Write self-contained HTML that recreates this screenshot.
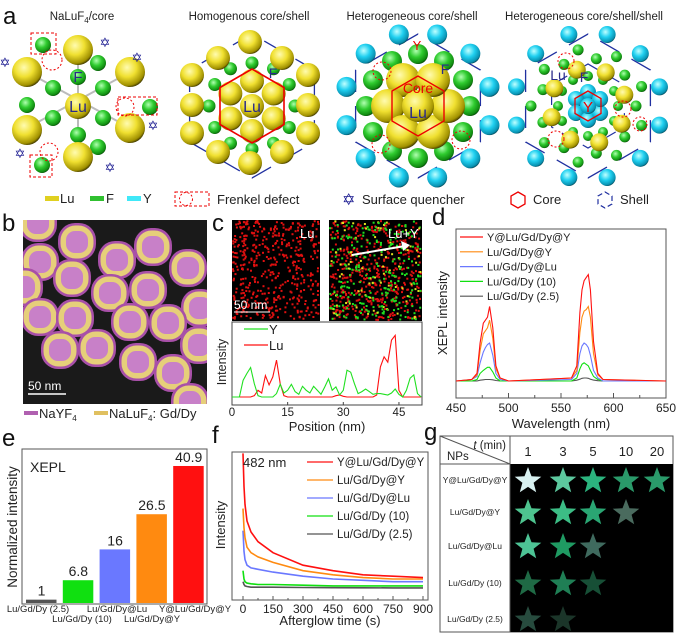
<!DOCTYPE html>
<html><head><meta charset="utf-8">
<style>
html,body{margin:0;padding:0;background:#fff;}
svg{display:block;font-family:"Liberation Sans",Arial,sans-serif;}
</style></head>
<body>
<svg id="fig" width="700" height="636" viewBox="0 0 700 636" xmlns="http://www.w3.org/2000/svg">
<defs>
 <radialGradient id="gy" cx="0.4" cy="0.35" r="0.7"><stop offset="0" stop-color="#fffbb0"/><stop offset="0.45" stop-color="#f0e030"/><stop offset="0.85" stop-color="#a09000"/><stop offset="1" stop-color="#201c00"/></radialGradient>
 <radialGradient id="gg" cx="0.4" cy="0.35" r="0.7"><stop offset="0" stop-color="#b0ffb0"/><stop offset="0.45" stop-color="#30cc30"/><stop offset="0.85" stop-color="#108a10"/><stop offset="1" stop-color="#033003"/></radialGradient>
 <radialGradient id="gc" cx="0.4" cy="0.35" r="0.7"><stop offset="0" stop-color="#c0ffff"/><stop offset="0.45" stop-color="#20d0f0"/><stop offset="0.85" stop-color="#0890b0"/><stop offset="1" stop-color="#02303a"/></radialGradient>
 <clipPath id="clipb"><rect x="23" y="220" width="184" height="184"/></clipPath>
 <clipPath id="clipd"><rect x="456" y="229" width="210" height="169"/></clipPath>
 <clipPath id="clipf"><rect x="232" y="452" width="196" height="148"/></clipPath>
</defs>
<g font-size="24" fill="#111">
 <text x="3" y="24">a</text>
 <text x="2" y="231">b</text>
 <text x="212" y="231">c</text>
 <text x="432" y="225">d</text>
 <text x="2" y="446">e</text>
 <text x="212" y="443">f</text>
 <text x="424" y="440">g</text>
</g>
<g font-size="11.5" fill="#222" text-anchor="middle">
 <text x="82" y="20">NaLuF<tspan font-size="8" dy="3">4</tspan><tspan dy="-3">/core</tspan></text>
 <text x="249" y="20">Homogenous core/shell</text>
 <text x="412" y="20">Heterogeneous core/shell</text>
 <text x="584" y="20">Heterogeneous core/shell/shell</text>
</g>
<g id="pa"></g>
<g font-size="13" fill="#222">
 <rect x="45" y="196" width="14" height="5" fill="#e0d020"/><text x="60" y="203">Lu</text>
 <rect x="90" y="196" width="14" height="5" fill="#30c030"/><text x="106" y="203">F</text>
 <rect x="127" y="196" width="14" height="5" fill="#40e8f8"/><text x="143" y="203">Y</text>
 <rect x="175" y="192" width="34" height="14" fill="none" stroke="#e00" stroke-dasharray="3,2"/>
 <circle cx="186" cy="199" r="6.5" fill="none" stroke="#e00" stroke-dasharray="2,2"/>
 <text x="217" y="204">Frenkel defect</text>
 <text x="342" y="205" fill="#1a1a90" font-size="16">✡</text>
 <text x="362" y="204">Surface quencher</text>
 <polygon points="518,192 525,196 525,204 518,208 511,204 511,196" fill="none" stroke="#e00" stroke-width="1.3"/>
 <text x="533" y="204">Core</text>
 <polygon points="605,192 612,196 612,204 605,208 598,204 598,196" fill="none" stroke="#2030a0" stroke-width="1.2" stroke-dasharray="5,3"/>
 <text x="620" y="204">Shell</text>
</g>
<g id="pb"></g>
<g font-size="13" fill="#222">
 <rect x="24" y="411" width="14" height="4" fill="#b060b0"/><text x="39" y="418">NaYF<tspan font-size="8" dy="3">4</tspan></text>
 <rect x="94" y="411" width="14" height="4" fill="#e0c060"/><text x="109" y="418">NaLuF<tspan font-size="8" dy="3">4</tspan><tspan dy="-3">: Gd/Dy</tspan></text>
</g>
<g id="pc"></g>
<g id="pd"></g>
<g id="pe"></g>
<g id="pf"></g>
<g id="pg"></g>
</svg>
<script>
var NS='http://www.w3.org/2000/svg';
function mk(tag,attrs,parent){var e=document.createElementNS(NS,tag);for(var k in attrs)e.setAttribute(k,attrs[k]);parent.appendChild(e);return e;}
function txt(s,attrs,parent){var e=mk('text',attrs,parent);e.textContent=s;return e;}

/* ---------- data: panel c line profile ---------- */
var cPos=[0,1,2,3,4,5,6,7,8,9,10,11,12,13,14,15,16,17,18,19,20,21,22,23,24,25,26,27,28,29,30,31,32,33,34,35,36,37,38,39,40,41,42,43,44,45,46,47,48,49,50,51];
var cY=[0,0,0,25,35,44,20,2,0,0,0,0,5,19,6,10,19,8,4,16,10,6,16,10,4,15,27,10,15,3,10,40,37,20,5,8,12,8,4,5,5,4,3,6,12,4,0,10,28,33,5,0];
var cLu=[0,0,0,0,0,0,2,10,6,32,18,30,55,20,2,0,0,0,0,0,0,0,0,0,0,0,0,0,2,3,1,0,0,0,0,0,0,0,0,3,45,60,52,85,92,10,0,0,0,0,0,0];
var cTicks=[0,15,30,45];
/* ---------- data: panel d spectra ---------- */
var dWl=[450,465,470,473,476,478,480,482,485,488,492,500,560,565,568,570,572,574,576,578,581,585,590,650];
var dRed=[0,1,5,25,38,40,42,49,35,10,2,0,2,10,45,60,66,68,70,60,26,5,1,0];
var dOrange=[0,1,4,20,31,33,35,40,28,8,2,0,2,7,32,42,46,47,49,42,18,4,1,0];
var dBlue=[0,1,3,12,19,22,24,25,17,5,1,0,1,5,18,23,25,24,22,17,7,2,0,0];
var dGreen=[0,0,1,5,7,8,9,9,6,2,0,0,0,2,8,11,12,11,10,7,3,1,0,0];
var dGray=[0,0,0,0.5,0.8,1,1,1,0.8,0.3,0,0,0,0.5,1.2,1.8,2,2,1.8,1.2,0.6,0.2,0,0];
var dTicks=[450,500,550,600,650];
var seriesNames=['Y@Lu/Gd/Dy@Y','Lu/Gd/Dy@Y','Lu/Gd/Dy@Lu','Lu/Gd/Dy (10)','Lu/Gd/Dy (2.5)'];
/* ---------- data: panel e bars ---------- */
var eCats=['Lu/Gd/Dy (2.5)','Lu/Gd/Dy (10)','Lu/Gd/Dy@Lu','Lu/Gd/Dy@Y','Y@Lu/Gd/Dy@Y'];
var eVals=[1,6.8,16,26.5,40.9];
var eLabels=['1','6.8','16','26.5','40.9'];
var eColors=['#555555','#10e010','#6a78ff','#ff8a10','#ff1010'];
/* ---------- data: panel f decay ---------- */
var fT=[0,5,10,20,40,75,150,300,450,600,750,900];
var fRed=[99,75,62,50,42,35,27,18,14,11,10,9];
var fOrange=[59,45,38,31,27,24,20,14,11,9,8,8];
var fBlue=[43,28,22,18,16,15,13,10,8,7,6,6];
var fGreen=[14,8,6,5,4.5,4,4,3.5,3,3,3,3];
var fGray=[6,4,3,2.5,2,2,2,1.8,1.7,1.6,1.5,1.5];
var fTicks=[0,150,300,450,600,750,900];
/* ---------- data: panel g ---------- */
var gTimes=['1','3','5','10','20'];
var gRows=['Y@Lu/Gd/Dy@Y','Lu/Gd/Dy@Y','Lu/Gd/Dy@Lu','Lu/Gd/Dy (10)','Lu/Gd/Dy (2.5)'];
var gRow1=['#d8f0f0','#5cc89e','#2bb47e','#2a9a6a','#2a9a6a'];
var gRow2=['#4ec48f','#3cbd85','#2aa673','#4a6b5e'];
var gRow3=['#4dc395','#1f9a62','#3f6a5e'];
var gRow4=['#1f6a45','#1f7f55','#174f36'];
var gRow5=['#274b3e','#1b3529'];

var colors=['#ff1010','#ff8a10','#6a78ff','#10e010','#555555'];

/* ================= panel a ================= */
var pa=document.getElementById('pa');
function sphere(cx,cy,r,g,name){var e=mk('circle',{cx:cx,cy:cy,r:r,fill:'url(#'+g+')'},pa);

}
function hexPts(cx,cy,r){var p=[];for(var i=0;i<6;i++){var a=Math.PI/2+i*Math.PI/3;p.push((cx+r*Math.cos(a)).toFixed(1)+','+(cy-r*Math.sin(a)).toFixed(1));}return p.join(' ');}
function hex(cx,cy,r,stroke,dash,name,w){var e=mk('polygon',{points:hexPts(cx,cy,r),fill:'none',stroke:stroke,'stroke-width':w||1.4},pa);if(dash)e.setAttribute('stroke-dasharray',dash);

}
function dcirc(cx,cy,r){var e=mk('circle',{cx:cx,cy:cy,r:r,fill:'none',stroke:'#e00','stroke-dasharray':'2,2'},pa);

}
function star(x,y){var e=txt('✡',{x:x,y:y,'font-size':13,fill:'#1a1a90','text-anchor':'middle'},pa);

}
function lbl(s,x,y,c,fs){var e=txt(s,{x:x,y:y,'font-size':fs||15,fill:c,'text-anchor':'middle'},pa);

}
[[27,72,130,128],[78,50,78,157],[130,72,27,128]].forEach(function(b){var e=mk('line',{x1:b[0],y1:b[1],x2:b[2],y2:b[3],stroke:'#bbb','stroke-width':2},pa);

});
[[53,88],[103,88],[53,118],[103,118],[78,77],[78,135],[27,105],[98,63],[98,147],[150,107],[43,45],[42,165]].forEach(function(p){sphere(p[0],p[1],8,'gg','f-atom');});
[[78,50],[27,72],[130,72],[27,130],[130,128],[78,157]].forEach(function(p){sphere(p[0],p[1],15,'gy','lu-atom');});
sphere(78,106,13,'gy','lu-center-atom');
lbl('Lu',78,112,'#2a2a8a',16);lbl('F',78,82,'#2a2a8a',15);
dcirc(52,60,10);dcirc(125,107,9);dcirc(49,152,9);
[[31,33,25,21],[118,97,39,18],[30,155,22,22]].forEach(function(r){var e=mk('rect',{x:r[0],y:r[1],width:r[2],height:r[3],fill:'none',stroke:'#e00','stroke-dasharray':'3,2'},pa);

});
star(105,47);star(137,62);star(5,67);star(153,130);star(20,158);star(110,172);
var H=[252,106];
hex(H[0],H[1],72,'#2030a0','22,14','shell-hex',1.3);
for(var i=0;i<12;i++){var a=i*Math.PI/6;sphere(H[0]+43*Math.cos(a),H[1]-43*Math.sin(a),6.5,'gg','f-atom');}
var outer=[[250,42],[218,58],[282,58],[192,75],[308,75],[192,105],[308,105],[192,133],[308,133],[218,152],[282,152],[250,163]];
outer.forEach(function(p){sphere(p[0],p[1],12,'gy','lu-atom');});
for(var i=0;i<6;i++){var a=Math.PI/2+i*Math.PI/3;sphere(H[0]+25*Math.cos(a),H[1]-25*Math.sin(a),12,'gy','lu-atom');}
sphere(H[0],H[1],12,'gy','lu-center-atom');
hex(H[0],H[1],37,'#e00',null,'core-hex',1.6);
lbl('Lu',H[0],H[1]+6,'#2a2a8a',16);lbl('F',H[0]+21,H[1]-28,'#2a2a8a',14);
var C=[418,106];
hex(C[0],C[1],72,'#2030a0','22,14','shell-hex',1.3);
for(var i=0;i<12;i++){var a=i*Math.PI/6+Math.PI/12;sphere(C[0]+74*Math.cos(a),C[1]-74*Math.sin(a),10,'gc','y-atom');}
for(var i=0;i<12;i++){var a=i*Math.PI/6;sphere(C[0]+52*Math.cos(a),C[1]-52*Math.sin(a),10,'gg','f-atom');}
for(var i=0;i<6;i++){var a=Math.PI/2+i*Math.PI/3+Math.PI/6;sphere(C[0]+30*Math.cos(a),C[1]-30*Math.sin(a),17,'gy','lu-atom');}
sphere(C[0],C[1],16,'gy','lu-center-atom');
hex(C[0],C[1],30,'#e00',null,'core-hex',1.4);
lbl('Core',C[0],C[1]-13,'#e00',14);lbl('Lu',C[0],C[1]+12,'#2a2a8a',16);lbl('Y',C[0]-1,C[1]-56,'#e00',13);lbl('F',C[0]+27,C[1]-32,'#2a2a8a',14);
dcirc(C[0]-36,C[1]-35,9);dcirc(C[0]-37,C[1]+38,9);dcirc(C[0]+43,C[1]+34,9);
var S=[588,106];
hex(S[0],S[1],72,'#2030a0','22,14','shell-hex',1.3);
hex(S[0],S[1],42,'#2030a0','14,10','inner-shell-hex',1.2);
for(var i=0;i<12;i++){var a=i*Math.PI/6+Math.PI/12;sphere(S[0]+74*Math.cos(a),S[1]-74*Math.sin(a),8.5,'gc','y-atom');}
for(var i=0;i<18;i++){var a=i*Math.PI/9;var rr=(i%2?57:48);sphere(S[0]+rr*Math.cos(a),S[1]-rr*Math.sin(a),5.5,'gg','f-atom');}
for(var i=0;i<12;i++){var a=i*Math.PI/6;sphere(S[0]+30*Math.cos(a),S[1]-30*Math.sin(a),5,'gg','f-atom');}
for(var i=0;i<8;i++){var a=i*Math.PI/4+0.3;sphere(S[0]+38*Math.cos(a),S[1]-38*Math.sin(a),9,'gy','lu-atom');}
for(var i=0;i<6;i++){var a=Math.PI/2+i*Math.PI/3;sphere(S[0]+14*Math.cos(a),S[1]-14*Math.sin(a),8,'gc','y-core-atom');}
sphere(S[0],S[1],8,'gc','y-core-atom');
hex(S[0],S[1],15,'#e00',null,'core-hex',1.3);
lbl('Y',S[0],S[1]+6,'#e00',15);lbl('Lu',S[0]-30,S[1]-26,'#2a2a8a',14);lbl('F',S[0]-4,S[1]-24,'#2a2a8a',14);
dcirc(S[0]-22,S[1]-45,8);dcirc(S[0]+35,S[1]+3,8);dcirc(S[0]-32,S[1]+33,8);dcirc(S[0]+52,S[1]+18,7);

/* ================= panel b ================= */
var pb=document.getElementById('pb');
var bimg=mk('g',{'clip-path':'url(#clipb)'},pb);
var bg=mk('rect',{x:23,y:220,width:184,height:184,fill:'#1a1a1a'},bimg);


var parts=[[38,223],[77,242],[117,260],[153,247],[188,268],[40,262],[72,278],[110,293],[148,290],[200,308],[24,287],[40,317],[75,318],[130,322],[168,323],[60,350],[97,348],[138,362],[173,373],[199,345],[190,402]];
parts.forEach(function(p){
 var g=mk('g',{},bimg);
 
 
 mk('rect',{x:p[0]-19,y:p[1]-19,width:38,height:38,rx:17,fill:'#a850a8'},g);
 mk('rect',{x:p[0]-16.5,y:p[1]-16.5,width:33,height:33,rx:15,fill:'#e6cf7a'},g);
 mk('rect',{x:p[0]-11,y:p[1]-11,width:22,height:22,rx:9,fill:'#c880c8'},g);
});
var sb=mk('line',{x1:28,y1:394,x2:66,y2:394,stroke:'#fff','stroke-width':1.5},pb);


var sbt=txt('50 nm',{x:28,y:390,'font-size':12,fill:'#fff'},pb);



/* ================= panel c ================= */
var pc=document.getElementById('pc');
var m1=mk('rect',{x:232,y:220,width:88,height:101,fill:'#000'},pc);


var m2=mk('rect',{x:329,y:220,width:93,height:101,fill:'#000'},pc);


var seed=7;function rnd(){seed=(seed*9301+49297)%233280;return seed/233280;}
var dots=mk('g',{},pc);


for(var i=0;i<650;i++){var x=232+rnd()*86,y=220+rnd()*99;if(rnd()<0.25)continue;mk('rect',{x:x.toFixed(1),y:y.toFixed(1),width:2,height:2,fill:'#e01010'},dots);}
for(var i=0;i<500;i++){var x=329+rnd()*91,y=220+rnd()*99;mk('rect',{x:x.toFixed(1),y:y.toFixed(1),width:2,height:2,fill:'#e01010'},dots);}
for(var i=0;i<320;i++){var x=329+rnd()*91,y=220+rnd()*99;mk('rect',{x:x.toFixed(1),y:y.toFixed(1),width:2,height:2,fill:rnd()<0.2?'#e0e020':'#20e020'},dots);}
var t1=txt('Lu',{x:300,y:238,'font-size':13,fill:'#fff'},pc);
var t2=txt('Lu+Y',{x:388,y:238,'font-size':13,fill:'#fff'},pc);
var ar=mk('line',{x1:352,y1:255,x2:405,y2:246,stroke:'#fff','stroke-width':2},pc);
var ah=mk('polygon',{points:'410,245 401,241 403,251',fill:'#fff'},pc);
var cs=mk('line',{x1:234,y1:312,x2:270,y2:312,stroke:'#fff','stroke-width':1},pc);
var cst=txt('50 nm',{x:234,y:309,'font-size':12,fill:'#fff'},pc);
var cbox=mk('rect',{x:232,y:322,width:190,height:83,fill:'#fff',stroke:'#444','stroke-width':1},pc);

function cx_(v){return 232+v*3.71;}function cy_(v){return 397-v*0.67;}
function poly(xs,ys,fx,fy,col,parent,name,w){var p=xs.map(function(x,i){return fx(x).toFixed(1)+','+fy(ys[i]).toFixed(1);}).join(' ');var e=mk('polyline',{points:p,fill:'none',stroke:col,'stroke-width':w||1.1},parent);

return e;}
poly(cPos,cLu,cx_,cy_,'#ff1010',pc,'lu-profile-line');
poly(cPos,cY,cx_,cy_,'#20e020',pc,'y-profile-line');
cTicks.forEach(function(t){var tk=mk('line',{x1:cx_(t),y1:405,x2:cx_(t),y2:402,stroke:'#444'},pc);
var tl=txt(String(t),{x:cx_(t),y:416,'font-size':11.5,'text-anchor':'middle',fill:'#222'},pc);});
var cl1=mk('line',{x1:244,y1:329,x2:268,y2:329,stroke:'#20e020','stroke-width':1.2},pc);
var cl1t=txt('Y',{x:269,y:334,'font-size':13,fill:'#222'},pc);
var cl2=mk('line',{x1:244,y1:345,x2:268,y2:345,stroke:'#ff1010','stroke-width':1.2},pc);
var cl2t=txt('Lu',{x:269,y:350,'font-size':13,fill:'#222'},pc);
var cyl=txt('Intensity',{x:0,y:0,'font-size':12.5,'text-anchor':'middle',fill:'#222',transform:'translate(226,362) rotate(-90)'},pc);
var cxl=txt('Position (nm)',{x:327,y:431,'font-size':13,'text-anchor':'middle',fill:'#222'},pc);

/* ================= panel d ================= */
var pd=document.getElementById('pd');
var dbox=mk('rect',{x:456,y:229,width:210,height:169,fill:'#fff',stroke:'#555','stroke-width':1},pd);

function dx(v){return 456+(v-450)*210/200;}function dy(v){return 381-v*1.52;}
var dSeries=[dRed,dOrange,dBlue,dGreen,dGray];
var dg=mk('g',{'clip-path':'url(#clipd)'},pd);
for(var s=4;s>=0;s--){poly(dWl,dSeries[s],dx,dy,colors[s],dg,'spectrum-line',1.1);}
for(var t=450;t<=650;t+=25){var tk=mk('line',{x1:dx(t),y1:398,x2:dx(t),y2:t%50?395:393,stroke:'#555'},pd);}
dTicks.forEach(function(t){var tl=txt(String(t),{x:dx(t),y:412,'font-size':12,'text-anchor':'middle',fill:'#222'},pd);});
var dxl=txt('Wavelength (nm)',{x:561,y:428,'font-size':13,'text-anchor':'middle',fill:'#222'},pd);
var dyl=txt('XEPL intensity',{x:0,y:0,'font-size':13,'text-anchor':'middle',fill:'#222',transform:'translate(447,313) rotate(-90)'},pd);
seriesNames.forEach(function(n,i){var y=237+i*14.8;var l=mk('line',{x1:460,y1:y,x2:483,y2:y,stroke:colors[i],'stroke-width':1.2},pd);
var tt=txt(n,{x:487,y:y+4,'font-size':11,fill:'#222'},pd);});

/* ================= panel e ================= */
var pe=document.getElementById('pe');
var ebox=mk('rect',{x:22,y:449,width:185,height:155,fill:'#fff',stroke:'#555','stroke-width':1},pe);

function ey(v){return 603-v*3.35;}function ex(i){return 26+i*36.8;}
eVals.forEach(function(v,i){var r=mk('rect',{x:ex(i),y:ey(v),width:30.5,height:603-ey(v),fill:eColors[i]},pe);

var vl=txt(eLabels[i],{x:ex(i)+15.5,y:ey(v)-4,'font-size':14,'text-anchor':'middle',fill:'#222'},pe);
var cl=txt(eCats[i],{x:[38,82,117,152,195][i],y:i%2?622:612,'font-size':9.5,'text-anchor':'middle',fill:'#222'},pe);});
var ex1=txt('XEPL',{x:30,y:472,'font-size':14,fill:'#222'},pe);
var eyl=txt('Normalized intensity',{x:0,y:0,'font-size':13.5,'text-anchor':'middle',fill:'#222',transform:'translate(17,527) rotate(-90)'},pe);

/* ================= panel f ================= */
var pf=document.getElementById('pf');
var fbox=mk('rect',{x:232,y:452,width:196,height:148,fill:'#fff',stroke:'#555','stroke-width':1},pf);

function fx(v){return 243+v*0.2;}function fy(v){return 590-v*1.38;}
var fg=mk('g',{'clip-path':'url(#clipf)'},pf);
var fSeries=[fRed,fOrange,fBlue,fGreen,fGray];
for(var s=4;s>=0;s--){poly(fT,fSeries[s],fx,fy,colors[s],fg,'decay-line',1.6);}
for(var t=0;t<=900;t+=75){var tk=mk('line',{x1:fx(t),y1:600,x2:fx(t),y2:t%150?598:596,stroke:'#555'},pf);}
fTicks.forEach(function(t){var tl=txt(String(t),{x:fx(t),y:613,'font-size':12,'text-anchor':'middle',fill:'#222'},pf);});
var fxl=txt('Afterglow time (s)',{x:330,y:625,'font-size':13,'text-anchor':'middle',fill:'#222'},pf);
var fyl=txt('Intensity',{x:0,y:0,'font-size':13,'text-anchor':'middle',fill:'#222',transform:'translate(225,525) rotate(-90)'},pf);
var fnm=txt('482 nm',{x:243,y:467,'font-size':13,fill:'#222'},pf);
seriesNames.forEach(function(n,i){var y=462+i*18;var l=mk('line',{x1:307,y1:y,x2:333,y2:y,stroke:colors[i],'stroke-width':1.3},pf);
var tt=txt(n,{x:337,y:y+4,'font-size':11.5,fill:'#222'},pf);});

/* ================= panel g ================= */
var pg=document.getElementById('pg');
var gbox=mk('rect',{x:440,y:436,width:233,height:196,fill:'#fff',stroke:'#555','stroke-width':1},pg);

var gblk=mk('rect',{x:510,y:464,width:163,height:168,fill:'#000'},pg);

[[440,464,510,464],[510,436,510,632],[440,436,510,464]].forEach(function(l){var e=mk('line',{x1:l[0],y1:l[1],x2:l[2],y2:l[3],stroke:'#555'},pg);});
var gt=txt('',{x:506,y:449,'font-size':11.5,'text-anchor':'end',fill:'#222'},pg);gt.innerHTML='<tspan font-style="italic">t</tspan> (min)';
var gn=txt('NPs',{x:447,y:460,'font-size':11.5,fill:'#222'},pg);
var colX=[528,563,593,626,657],rowY=[480,512,546,583,619];
gTimes.forEach(function(t,i){var e=txt(t,{x:colX[i],y:456,'font-size':13,'text-anchor':'middle',fill:'#222'},pg);});
gRows.forEach(function(r,i){var e=txt(r,{x:475,y:rowY[i]+3,'font-size':8.5,'text-anchor':'middle',fill:'#222'},pg);});
function starPts(cx,cy,R){var p=[];for(var i=0;i<10;i++){var r=i%2?R*0.42:R;var a=-Math.PI/2+i*Math.PI/5;p.push((cx+r*Math.cos(a)).toFixed(1)+','+(cy+r*Math.sin(a)).toFixed(1));}return p.join(' ');}
[gRow1,gRow2,gRow3,gRow4,gRow5].forEach(function(row,ri){row.forEach(function(c,ci){var s=mk('polygon',{points:starPts(colX[ci],rowY[ri]+1,14),fill:c},pg);

});});
</script>
</body></html>
